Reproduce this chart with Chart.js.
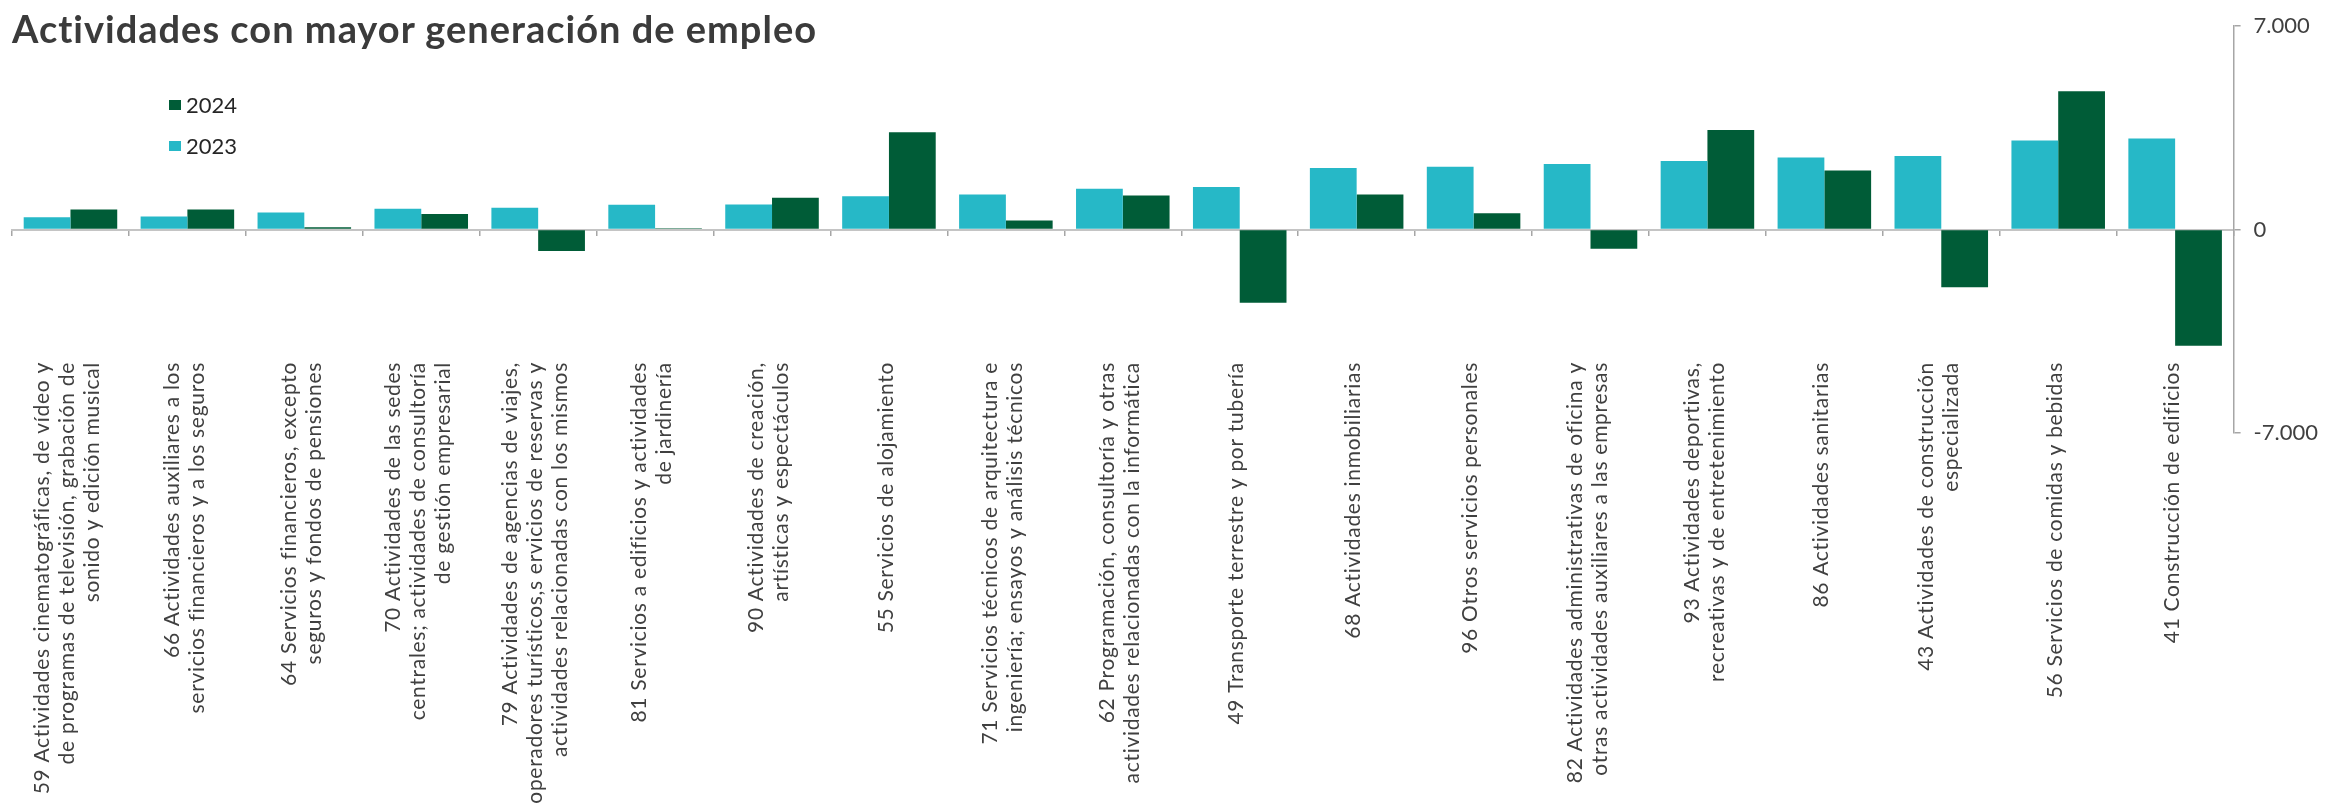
<!DOCTYPE html>
<html lang="es">
<head>
<meta charset="utf-8">
<title>Actividades con mayor generación de empleo</title>
<script src="https://cdn.jsdelivr.net/npm/chart.js@4.4.1/dist/chart.umd.min.js"></script>
<style>
  body { margin: 0; background: #fff; }
  #wrap { position: relative; width: 2341px; height: 807px; }
  #titulo {
    position: absolute; left: 12px; top: 9px; margin: 0;
    font: 700 38px/1 Lato, sans-serif; letter-spacing: 1px; color: #3b3b3b; white-space: nowrap;
  }
  #leyenda { position: absolute; left: 169px; top: 94px; font: 22px/22px Lato, sans-serif; color: #262626; }
  #leyenda div { display: flex; align-items: center; height: 22px; margin-bottom: 18.5px; }
  #leyenda span.caja { display: inline-block; width: 12px; height: 10px; margin-right: 5px; }
</style>
</head>
<body>
<div id="wrap">
  <canvas id="grafico"></canvas>
  <h1 id="titulo">Actividades con mayor generación de empleo</h1>
  <div id="leyenda"></div>
</div>
<script>
// etiquetas de categoría (cada línea por separado)
const actividades = [
  ['59 Actividades cinematográficas, de vídeo y', 'de programas de televisión, grabación de', 'sonido y edición musical'],
  ['66 Actividades auxiliares a los', 'servicios financieros y a los seguros'],
  ['64 Servicios financieros, excepto', 'seguros y fondos de pensiones'],
  ['70 Actividades de las sedes', 'centrales; actividades de consultoría', 'de gestión empresarial'],
  ['79 Actividades de agencias de viajes,', 'operadores turísticos,s ervicios de reservas y', 'actividades relacionadas con los mismos'],
  ['81 Servicios a edificios y actividades', 'de jardinería'],
  ['90 Actividades de creación,', 'artísticas y espectáculos'],
  ['55 Servicios de alojamiento'],
  ['71 Servicios técnicos de arquitectura e', 'ingeniería; ensayos y análisis técnicos'],
  ['62 Programación, consultoría y otras', 'actividades relacionadas con la informática'],
  ['49 Transporte terrestre y por tubería'],
  ['68 Actividades inmobiliarias'],
  ['96 Otros servicios personales'],
  ['82 Actividades administrativas de oficina y', 'otras actividades auxiliares a las empresas'],
  ['93 Actividades deportivas,', 'recreativas y de entretenimiento'],
  ['86 Actividades sanitarias'],
  ['43 Actividades de construcción', 'especializada'],
  ['56 Servicios de comidas y bebidas'],
  ['41 Construcción de edificios']
];

const empleo2023 = [425, 450, 585, 720, 750, 855, 865, 1145, 1205, 1405, 1465, 2120, 2165, 2255, 2365, 2480, 2535, 3070, 3135];
const empleo2024 = [695, 695, 85, 535, -740, 50, 1100, 3350, 310, 1170, -2515, 1205, 560, -660, 3430, 2030, -1985, 4765, -3995];

const ticksEje = [-7000, 0, 7000];

const COLOR_2023 = '#26b8c7';
const COLOR_2024 = '#005c37';
const GRIS = '#a6a6a6';

function formatoMiles(v) {
  const s = Math.abs(v).toString().replace(/\B(?=(\d{3})+(?!\d))/g, '.');
  return (v < 0 ? '-' : '') + s;
}

// dibuja las etiquetas verticales centradas en cada categoría
const etiquetasVerticales = {
  id: 'etiquetasVerticales',
  afterDraw(chart) {
    const x = chart.scales.x;
    const ctx = chart.ctx;
    const lh = 25;
    const arriba = 362;
    ctx.save();
    ctx.font = '21px Lato, sans-serif';
    ctx.letterSpacing = '0.7px';
    ctx.fillStyle = '#404040';
    ctx.textAlign = 'right';
    ctx.textBaseline = 'middle';
    chart.data.labels.forEach((lineas, i) => {
      const px = x.getPixelForTick(i) - 3;
      ctx.save();
      ctx.translate(px, arriba);
      ctx.rotate(-Math.PI / 2);
      lineas.forEach((txt, j) => {
        ctx.fillText(txt, 0, (j - (lineas.length - 1) / 2) * lh);
      });
      ctx.restore();
    });
    ctx.restore();
  }
};

const chart = new Chart(document.getElementById('grafico'), {
  type: 'bar',
  data: {
    labels: actividades,
    datasets: [
      { label: '2023', data: empleo2023, backgroundColor: COLOR_2023 },
      { label: '2024', data: empleo2024, backgroundColor: COLOR_2024 }
    ]
  },
  options: {
    responsive: true,
    maintainAspectRatio: false,
    animation: false,
    layout: { padding: { left: 12, top: 20, right: 10, bottom: 374 } },
    datasets: { bar: { barPercentage: 1, categoryPercentage: 0.8 } },
    plugins: {
      legend: { display: false },
      tooltip: { enabled: false }
    },
    scales: {
      x: {
        position: { y: 0 },
        grid: { display: true, drawOnChartArea: false, drawTicks: true, tickLength: 5, tickColor: GRIS, lineWidth: 1.5 },
        border: { display: true, color: '#c4c4c4', width: 2 },
        ticks: { display: false }
      },
      y: {
        position: 'right',
        min: -7000,
        max: 7000,
        afterBuildTicks: (axis) => { axis.ticks = ticksEje.map(v => ({ value: v })); },
        grid: { drawOnChartArea: false, drawTicks: true, tickLength: 7, tickColor: GRIS, lineWidth: 1.5 },
        border: { display: true, color: GRIS, width: 1.5 },
        ticks: {
          padding: 13,
          color: '#404040',
          font: { family: 'Lato', size: 22 },
          callback: (v) => formatoMiles(v)
        }
      }
    }
  },
  plugins: [etiquetasVerticales]
});

// leyenda: 2024 arriba, 2023 abajo
const leyenda = document.getElementById('leyenda');
chart.data.datasets.slice().reverse().forEach(ds => {
  const fila = document.createElement('div');
  const caja = document.createElement('span');
  caja.className = 'caja';
  caja.style.background = ds.backgroundColor;
  fila.appendChild(caja);
  fila.appendChild(document.createTextNode(ds.label));
  leyenda.appendChild(fila);
});
</script>
</body>
</html>
